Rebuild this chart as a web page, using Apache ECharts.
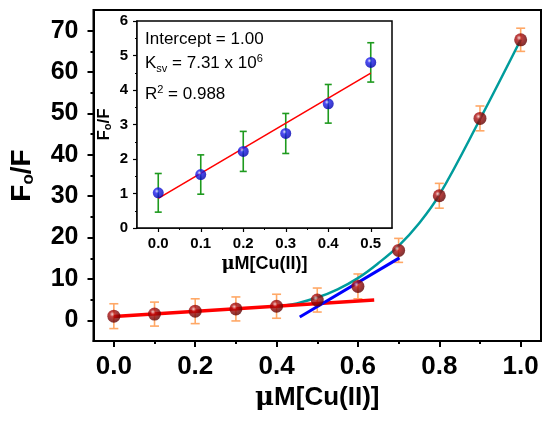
<!DOCTYPE html>
<html>
<head>
<meta charset="utf-8">
<script src="https://cdn.jsdelivr.net/npm/echarts@6/dist/echarts.min.js"></script>
<style>
  html, body { margin: 0; padding: 0; background: #fff; }
  #main { width: 550px; height: 423px; }
</style>
</head>
<body>
<div id="main"></div>
<script>
// main plot: quenching data
const mainX = [0, 0.1, 0.2, 0.3, 0.4, 0.5, 0.6, 0.7, 0.8, 0.9, 1.0]
const mainY = [1.0, 1.5, 2.2, 2.75, 3.4, 4.9, 8.2, 16.9, 30.1, 48.8, 67.8]
const mainErr = [3.0, 2.9, 3.0, 2.9, 2.9, 2.9, 3.0, 2.9, 3.0, 3.0, 2.8]
const redFit = [[0, 0.95], [0.64, 4.9]]
const blueFit = [[0.457, 0.8], [0.702, 15.1]]
const tealX = [0.42, 0.45, 0.5, 0.55, 0.6, 0.65, 0.7, 0.75, 0.8, 0.9, 1.0]
const tealY = [3.6, 4.1, 5.5, 7.5, 10.2, 13.8, 18.0, 23.4, 30.3, 48.6, 67.8]
const mainXTicks = [0, 0.2, 0.4, 0.6, 0.8, 1.0]
const mainXMinor = [0.1, 0.3, 0.5, 0.7, 0.9]
const mainYTicks = [0, 10, 20, 30, 40, 50, 60, 70]
const mainYMinor = [5, 15, 25, 35, 45, 55, 65]

// inset: Stern-Volmer linear region
const insetX = [0, 0.1, 0.2, 0.3, 0.4, 0.5]
const insetY = [1.02, 1.55, 2.22, 2.74, 3.6, 4.8]
const insetErr = [0.56, 0.57, 0.58, 0.58, 0.56, 0.57]
const insetFit = [[0, 0.86], [0.5, 4.49]]
const insetXTicks = [0, 0.1, 0.2, 0.3, 0.4, 0.5]
const insetXMinor = [0.05, 0.15, 0.25, 0.35, 0.45]
const insetYTicks = [0, 1, 2, 3, 4, 5, 6]
const insetYMinor = [0.5, 1.5, 2.5, 3.5, 4.5, 5.5]

const FONT = 'Liberation Sans, Arial, sans-serif'

function sphere(light, mid, dark) {
    return {
        type: 'radial', x: 0.38, y: 0.35, r: 0.65,
        colorStops: [
            { offset: 0, color: light },
            { offset: 0.3, color: mid },
            { offset: 1, color: dark }
        ]
    }
}

function errorBars(xIdx, yIdx, xs, ys, errs, color, cap, z) {
    return {
        type: 'custom',
        xAxisIndex: xIdx, yAxisIndex: yIdx,
        z: z,
        data: xs.map((x, i) => [x, ys[i], errs[i]]),
        encode: { x: 0, y: 1 },
        renderItem: function (params, api) {
            const x = api.value(0), y = api.value(1), e = api.value(2)
            const hi = api.coord([x, y + e]), lo = api.coord([x, y - e])
            const st = { stroke: color, lineWidth: 1.6 }
            return {
                type: 'group',
                children: [
                    { type: 'line', shape: { x1: hi[0], y1: hi[1], x2: lo[0], y2: lo[1] }, style: st },
                    { type: 'line', shape: { x1: hi[0] - cap, y1: hi[1], x2: hi[0] + cap, y2: hi[1] }, style: st },
                    { type: 'line', shape: { x1: lo[0] - cap, y1: lo[1], x2: lo[0] + cap, y2: lo[1] }, style: st }
                ]
            }
        }
    }
}

const subRich = {
    sub: { fontSize: 17, fontWeight: 'bold', fontFamily: FONT, color: '#000', padding: [12, 0, 0, 0] },
    mu: { fontSize: 26, fontFamily: 'DejaVu Serif', color: '#000' }
}

function tickAxis(dim, grid, min, max, values, len, width) {
    return {
        type: 'value', gridIndex: grid, min: min, max: max,
        position: dim === 'x' ? 'bottom' : 'left',
        axisLine: { show: false, onZero: false },
        axisTick: { show: true, customValues: values, length: len, lineStyle: { color: '#000', width: width } },
        axisLabel: { show: false },
        splitLine: { show: false }
    }
}

const option = {
    animation: false,
    backgroundColor: '#fff',
    grid: [
        { left: 88, top: 10, right: 9, bottom: 82, show: true, borderColor: '#000', borderWidth: 2, backgroundColor: 'transparent' },
        { left: 137, top: 21, width: 255, height: 207, show: true, borderColor: '#000', borderWidth: 1.5, backgroundColor: '#fff', z: 3 }
    ],
    xAxis: [
        {
            type: 'value', gridIndex: 0, min: -0.05, max: 1.05, position: 'bottom',
            axisLine: { show: true, onZero: false, lineStyle: { color: '#000', width: 2 } },
            axisTick: { show: true, customValues: mainXTicks, length: 6, lineStyle: { color: '#000', width: 2 } },
            axisLabel: {
                customValues: mainXTicks, margin: 13, color: '#000', fontSize: 26, fontWeight: 'bold', fontFamily: FONT,
                formatter: v => v.toFixed(1)
            },
            splitLine: { show: false },
            name: '{mu|μ}M[Cu(II)]', nameLocation: 'middle', nameGap: 38,
            nameTextStyle: { fontSize: 26, fontWeight: 'bold', fontFamily: FONT, color: '#000', rich: subRich }
        },
        tickAxis('x', 0, -0.05, 1.05, mainXMinor, 3, 2),
        {
            type: 'value', gridIndex: 1, min: -0.05, max: 0.55, position: 'bottom',
            axisLine: { show: true, onZero: false, lineStyle: { color: '#000', width: 1.5 } },
            axisTick: { show: true, customValues: insetXTicks, length: 4, lineStyle: { color: '#000', width: 1.2 } },
            axisLabel: {
                customValues: insetXTicks, margin: 8, color: '#000', fontSize: 15, fontWeight: 'bold', fontFamily: FONT,
                formatter: v => v.toFixed(1)
            },
            splitLine: { show: false },
            name: '{mu2|μ}M[Cu(II)]', nameLocation: 'middle', nameGap: 27,
            nameTextStyle: {
                fontSize: 18, fontWeight: 'bold', fontFamily: FONT, color: '#000',
                rich: { mu2: { fontSize: 18, fontFamily: 'DejaVu Serif', color: '#000' } }
            }
        },
        tickAxis('x', 1, -0.05, 0.55, insetXMinor, 2, 1)
    ],
    yAxis: [
        {
            type: 'value', gridIndex: 0, min: -5, max: 75, position: 'left',
            axisLine: { show: true, onZero: false, lineStyle: { color: '#000', width: 2 } },
            axisTick: { show: true, customValues: mainYTicks, length: 6, lineStyle: { color: '#000', width: 2 } },
            axisLabel: { customValues: mainYTicks, margin: 15, color: '#000', fontSize: 25, fontWeight: 'bold', fontFamily: FONT },
            splitLine: { show: false },
            name: 'F{sub|o}/F', nameLocation: 'middle', nameGap: 57,
            nameTextStyle: { fontSize: 28, fontWeight: 'bold', fontFamily: FONT, color: '#000', rich: subRich }
        },
        tickAxis('y', 0, -5, 75, mainYMinor, 3, 2),
        {
            type: 'value', gridIndex: 1, min: 0, max: 6, position: 'left',
            axisLine: { show: true, onZero: false, lineStyle: { color: '#000', width: 1.5 } },
            axisTick: { show: true, customValues: insetYTicks, length: 4, lineStyle: { color: '#000', width: 1.2 } },
            axisLabel: { customValues: insetYTicks, margin: 9, color: '#000', fontSize: 15, fontWeight: 'bold', fontFamily: FONT },
            splitLine: { show: false },
            name: 'F{s|o}/F', nameLocation: 'middle', nameGap: 24,
            nameTextStyle: {
                fontSize: 17, fontWeight: 'bold', fontFamily: FONT, color: '#000',
                rich: { s: { fontSize: 11, fontWeight: 'bold', fontFamily: FONT, color: '#000', padding: [7, 0, 0, 0] } }
            }
        },
        tickAxis('y', 1, 0, 6, insetYMinor, 2, 1)
    ],
    series: [
        // main plot
        errorBars(0, 0, mainX, mainY, mainErr, '#FFA866', 4.5, 2),
        {
            type: 'line', xAxisIndex: 0, yAxisIndex: 0, z: 3,
            data: tealX.map((x, i) => [x, tealY[i]]), smooth: 0.4, showSymbol: false,
            lineStyle: { color: '#009C9C', width: 2.5 }
        },
        {
            type: 'line', xAxisIndex: 0, yAxisIndex: 0, z: 4,
            data: redFit, showSymbol: false, lineStyle: { color: '#FF0000', width: 3.5 }
        },
        {
            type: 'line', xAxisIndex: 0, yAxisIndex: 0, z: 4,
            data: blueFit, showSymbol: false, lineStyle: { color: '#0000FF', width: 3 }
        },
        {
            type: 'scatter', xAxisIndex: 0, yAxisIndex: 0, z: 5,
            data: mainX.map((x, i) => [x, mainY[i]]), symbolSize: 13,
            itemStyle: { color: sphere('#F4C8C8', '#B01010', '#600000') }
        },
        // inset
        errorBars(2, 2, insetX, insetY, insetErr, '#1E9A1E', 3.5, 6),
        {
            type: 'line', xAxisIndex: 2, yAxisIndex: 2, z: 7,
            data: insetFit, showSymbol: false, lineStyle: { color: '#FF0000', width: 1.6 }
        },
        {
            type: 'scatter', xAxisIndex: 2, yAxisIndex: 2, z: 8,
            data: insetX.map((x, i) => [x, insetY[i]]), symbolSize: 11,
            itemStyle: { color: sphere('#D8D8FF', '#2020F0', '#0000B0') }
        }
    ],
    graphic: [
        {
            type: 'text', left: 145, top: 31, z: 100,
            style: { text: 'Intercept = 1.00', fontSize: 17, fontFamily: FONT, fill: '#000' }
        },
        {
            type: 'text', left: 145, top: 53, z: 100,
            style: {
                text: 'K{s|sv} = 7.31 x 10{p|6}', fontSize: 17, fontFamily: FONT, fill: '#000',
                rich: {
                    s: { fontSize: 11, fontFamily: FONT, fill: '#000', padding: [10, 0, 0, 0] },
                    p: { fontSize: 11, fontFamily: FONT, fill: '#000', padding: [0, 0, 10, 0] }
                }
            }
        },
        {
            type: 'text', left: 145, top: 84, z: 100,
            style: {
                text: 'R{p|2} = 0.988', fontSize: 17, fontFamily: FONT, fill: '#000',
                rich: { p: { fontSize: 11, fontFamily: FONT, fill: '#000', padding: [0, 0, 10, 0] } }
            }
        }
    ]
}

const chart = echarts.init(document.getElementById('main'))
chart.setOption(option)
</script>
</body>
</html>
